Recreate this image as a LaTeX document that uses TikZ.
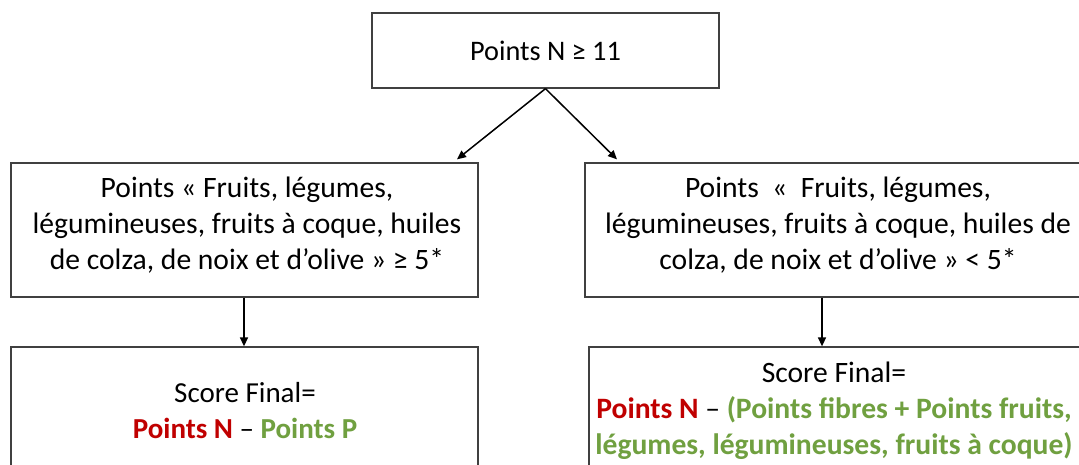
\documentclass[tikz,border=0pt]{standalone}
\usepackage{fontspec}
\setmainfont{Carlito}
\usetikzlibrary{arrows.meta,calc}
\definecolor{boxgray}{HTML}{404040}
\definecolor{nred}{HTML}{C00000}
\definecolor{pgreen}{HTML}{70A040}
\begin{document}
\begin{tikzpicture}[x=1pt,y=-1pt,
  box/.style={draw=boxgray,line width=1.3pt,rectangle,inner sep=0pt},
  txt/.style={align=center,font=\fontsize{29}{36}\selectfont,inner sep=0pt},
  bigtxt/.style={align=center,font=\fontsize{29.6}{36}\selectfont,inner sep=0pt},
  arr/.style={line width=1.5pt,-{Triangle[length=9pt,width=8pt]}}]
\useasboundingbox (0,0) rectangle (1079,464);
\fill[white] (0,0) rectangle (1079,464);
\node[box,txt,font=\fontsize{28.3}{36}\selectfont,minimum width=347pt,minimum height=75pt] (top) at (545.5,50.5) {Points N ≥ 11};
\node[box,minimum width=467pt,minimum height=134pt] (ml) at (244.5,230) {};
\node[box,minimum width=515pt,minimum height=134pt] (mr) at (842.5,230) {};
\node[box,minimum width=467pt,minimum height=129pt] (bl) at (244.5,411.5) {};
\node[box,minimum width=511pt,minimum height=129pt] (br) at (844.5,411.5) {};
\node[bigtxt] (tml) at (247,225) {Points «~Fruits, légumes,\\ légumineuses, fruits à coque, huiles\\ de colza, de noix et d’olive »~≥ 5*};
\node[bigtxt] (tmr) at (838,225) {Points~~«~~Fruits, légumes,\\ légumineuses, fruits à coque, huiles de\\ colza, de noix et d’olive » < 5*};
\node[txt] (tbl) at (245,410.5) {Score Final=\\ {\bfseries\color{nred}Points N} – {\bfseries\color{pgreen}Points P}};
\node[bigtxt] (tbr) at (834,410.5) {Score Final=\\ {\bfseries\color{nred}Points N} – {\bfseries\color{pgreen}(Points fibres + Points fruits,}\\ {\bfseries\color{pgreen}légumes, légumineuses, fruits à coque)}};
\coordinate (rx) at (822,0);
\coordinate (lx) at (244,0);
\draw[arr] (top.south) -- ([xshift=212.5pt,yshift=3pt]ml.north);
\draw[arr] (top.south) -- ([xshift=-225.5pt,yshift=3pt]mr.north);
\draw[arr] (ml.south -| lx) -- (bl.north -| lx);
\draw[arr] (mr.south -| rx) -- (br.north -| rx);
\end{tikzpicture}
\end{document}
